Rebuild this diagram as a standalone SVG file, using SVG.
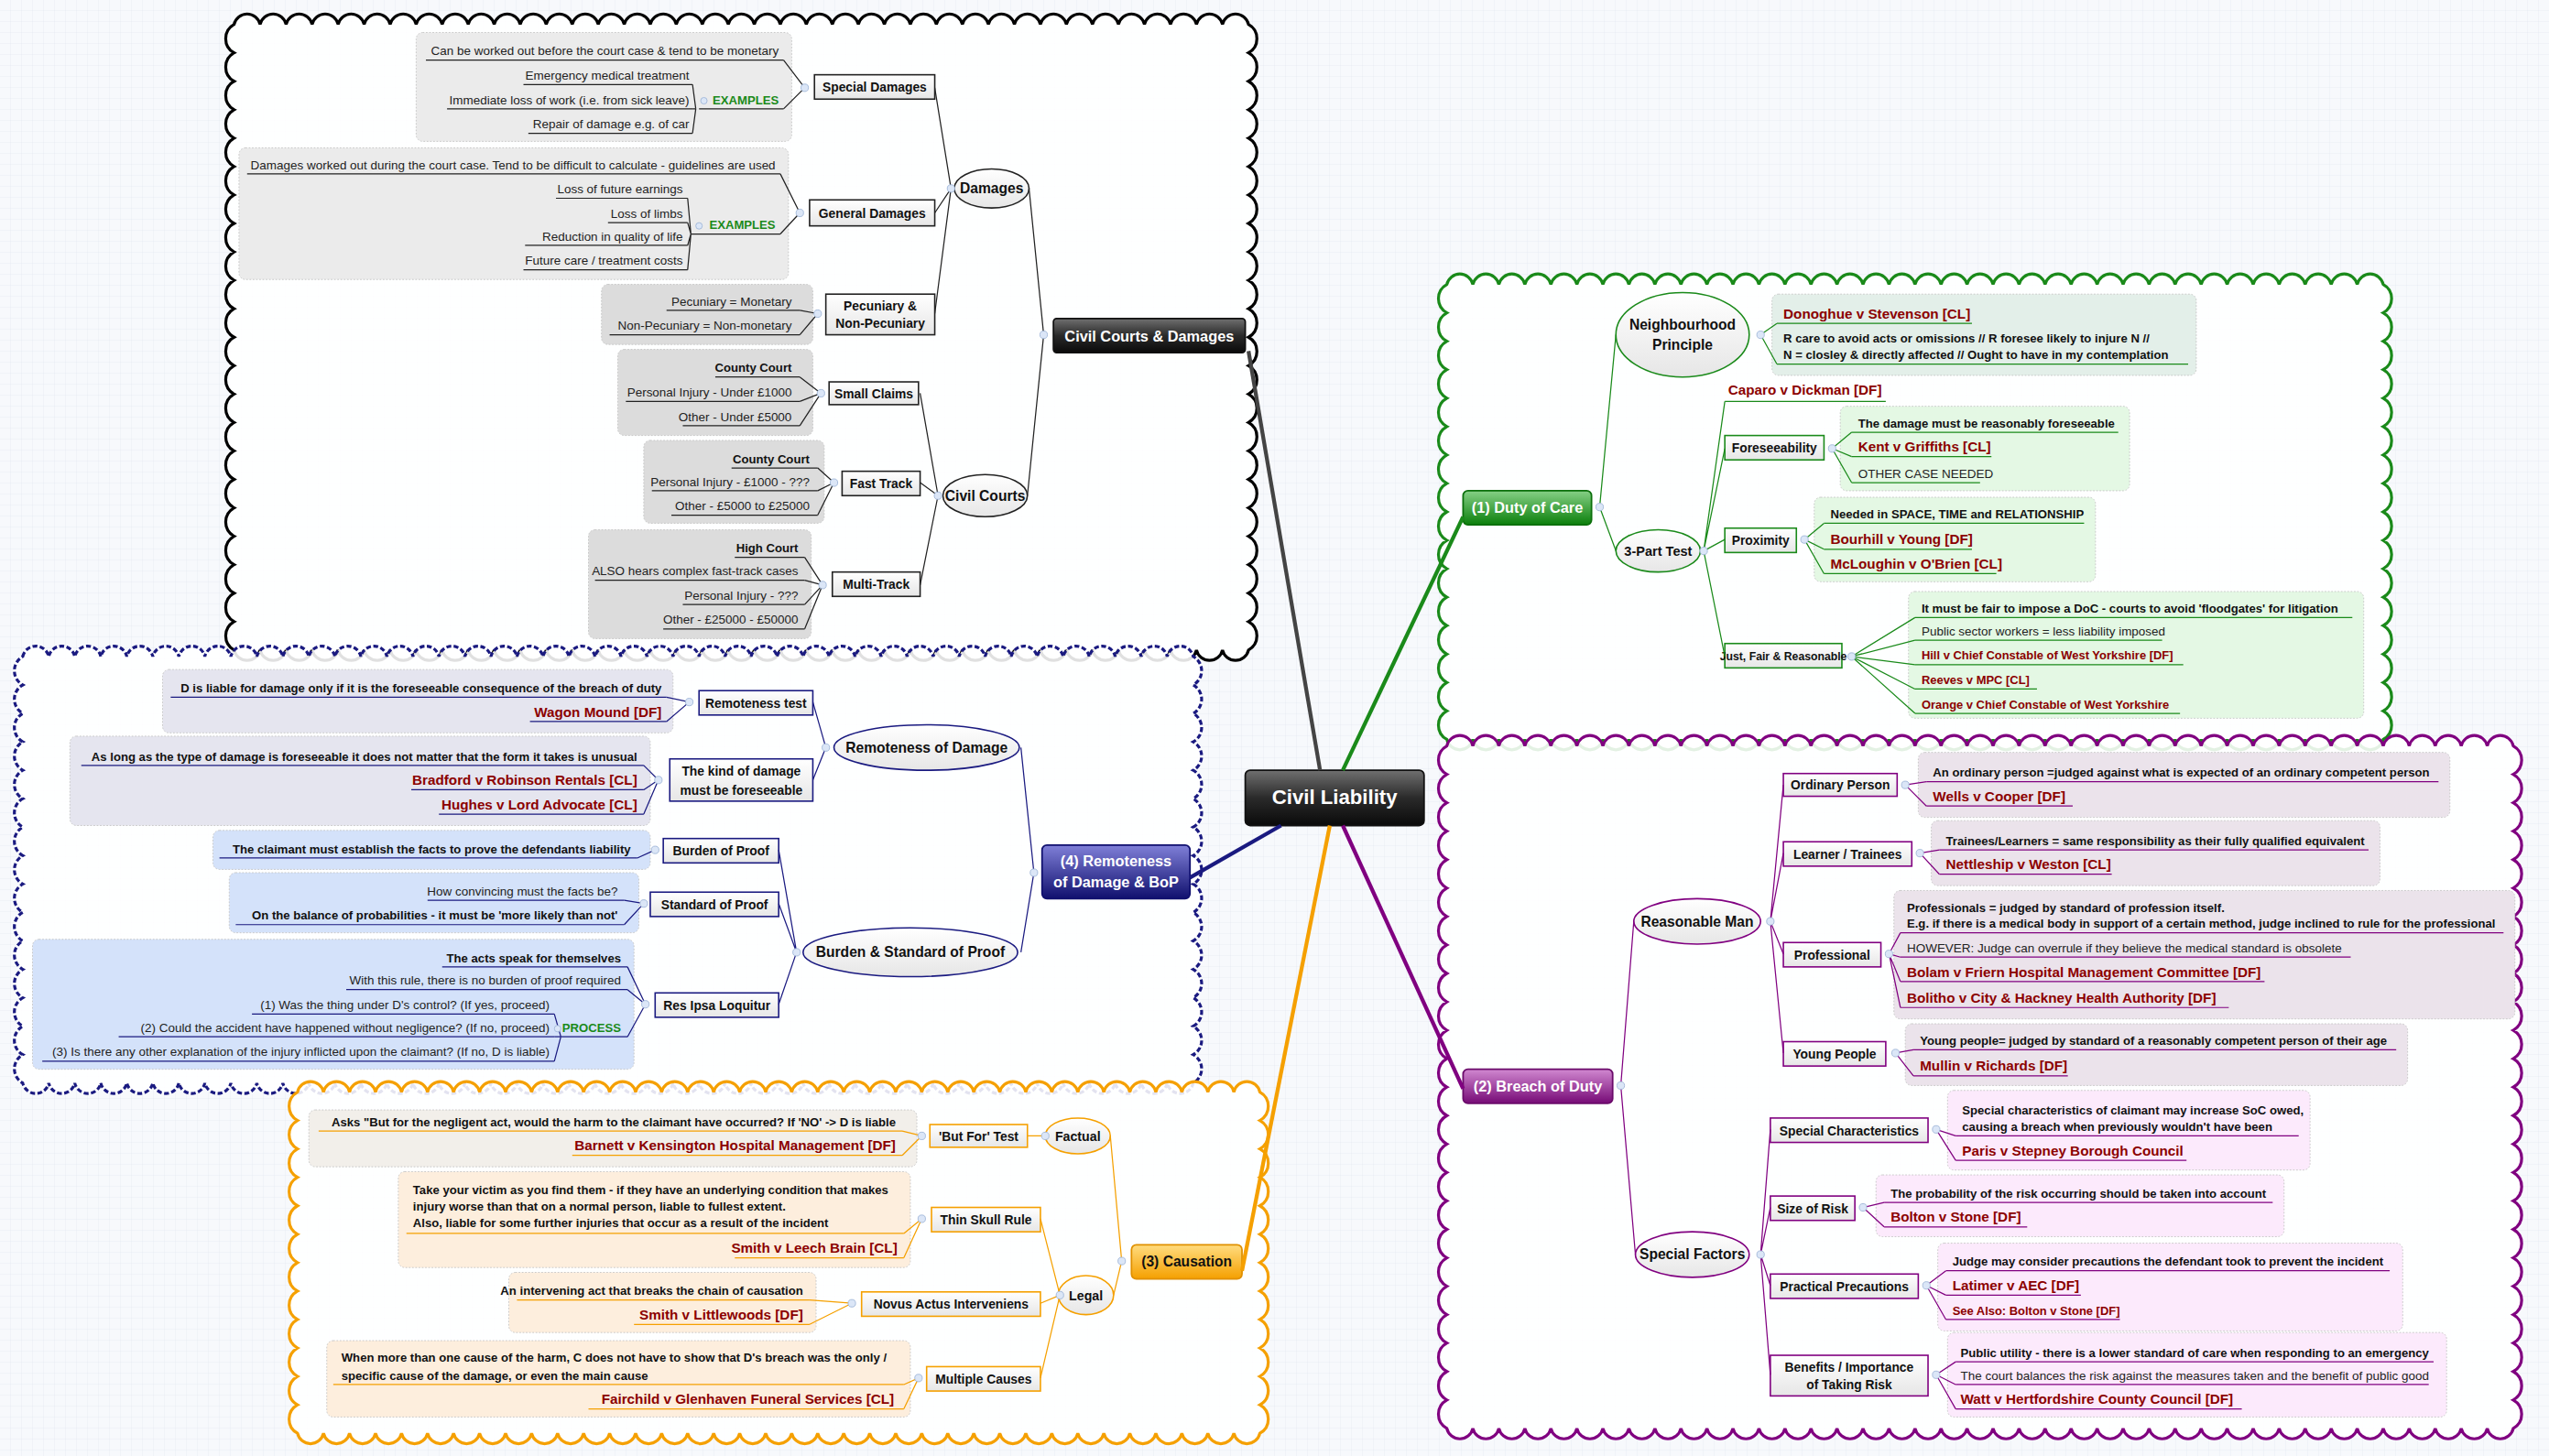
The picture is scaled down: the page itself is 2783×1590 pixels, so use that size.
<svg xmlns="http://www.w3.org/2000/svg" width="2783" height="1590" viewBox="0 0 2783 1590">
<style>
text{font-family:"Liberation Sans",Arial,sans-serif}
.n{font-size:7.6px;fill:#222}
.b{font-size:7.4px;font-weight:bold;fill:#111}
.r{font-size:8.6px;font-weight:bold;fill:#8b0000}
.rs{font-size:7.3px;font-weight:bold;fill:#8b0000}
.g{font-size:7.4px;font-weight:bold;fill:#1a8a1a}
.lb{font-size:7.8px;font-weight:bold;fill:#111;text-anchor:middle}
.el{font-size:8.8px;font-weight:bold;fill:#111;text-anchor:middle}
.tt{font-size:9.2px;font-weight:bold;fill:#fff;text-anchor:middle}
.e{text-anchor:end}
.cl{fill:#fff;fill-opacity:.88;stroke-width:1.8}
.note{stroke:#c4c4c4;stroke-width:.5;stroke-dasharray:1 1}
.box{fill:url(#gw);stroke-width:.9}
.ell{fill:url(#gw);stroke-width:.9}
.c{fill:none;stroke-width:.7}
.m{fill:#dbe6f7;stroke:#9fb6d8;stroke-width:.5}
.k{stroke:#222}.nv{stroke:#1a1a80}.o{stroke:#f5a000}.gr{stroke:#1a8a1a}.p{stroke:#800080}
</style>
<defs>
<pattern id="grid" width="12" height="12" patternUnits="userSpaceOnUse"><rect width="12" height="12" fill="#f7f9fc"/><path d="M12 0V12H0" fill="none" stroke="#e3eaf2" stroke-width=".7"/></pattern>
<linearGradient id="gw" x1="0" y1="0" x2="0" y2="1"><stop offset="0" stop-color="#fff"/><stop offset="1" stop-color="#e6e6e6"/></linearGradient>
<linearGradient id="gd" x1="0" y1="0" x2="0" y2="1"><stop offset="0" stop-color="#707070"/><stop offset=".5" stop-color="#2a2a2a"/><stop offset="1" stop-color="#0a0a0a"/></linearGradient>
<linearGradient id="gg" x1="0" y1="0" x2="0" y2="1"><stop offset="0" stop-color="#86d086"/><stop offset="1" stop-color="#0b7f0b"/></linearGradient>
<linearGradient id="gp" x1="0" y1="0" x2="0" y2="1"><stop offset="0" stop-color="#d088d0"/><stop offset="1" stop-color="#760a76"/></linearGradient>
<linearGradient id="gn" x1="0" y1="0" x2="0" y2="1"><stop offset="0" stop-color="#8080d8"/><stop offset="1" stop-color="#10106e"/></linearGradient>
<linearGradient id="go" x1="0" y1="0" x2="0" y2="1"><stop offset="0" stop-color="#ffdc80"/><stop offset="1" stop-color="#f5a000"/></linearGradient>
</defs>
<rect width="2783" height="1590" fill="url(#grid)"/>
<g transform="scale(1.7749 1.7746)">
<g id="clouds">
<path class="cl" stroke="#000" d="M144 15a8.2 8.2 0 0 1 16 0 8.2 8.2 0 0 1 16 0 8.2 8.2 0 0 1 16 0 8.2 8.2 0 0 1 16 0 8.2 8.2 0 0 1 16 0 8.2 8.2 0 0 1 16 0 8.2 8.2 0 0 1 16 0 8.2 8.2 0 0 1 16 0 8.2 8.2 0 0 1 16 0 8.2 8.2 0 0 1 16 0 8.2 8.2 0 0 1 16 0 8.2 8.2 0 0 1 16 0 8.2 8.2 0 0 1 16 0 8.2 8.2 0 0 1 16 0 8.2 8.2 0 0 1 16 0 8.2 8.2 0 0 1 16 0 8.2 8.2 0 0 1 16 0 8.2 8.2 0 0 1 16 0 8.2 8.2 0 0 1 16 0 8.2 8.2 0 0 1 16 0 8.2 8.2 0 0 1 16 0 8.2 8.2 0 0 1 16 0 8.2 8.2 0 0 1 16 0 8.2 8.2 0 0 1 16 0 8.2 8.2 0 0 1 16 0 8.2 8.2 0 0 1 16 0 8.2 8.2 0 0 1 16 0 8.2 8.2 0 0 1 16 0 8.2 8.2 0 0 1 16 0 8.2 8.2 0 0 1 16 0 8.2 8.2 0 0 1 16 0 8.2 8.2 0 0 1 16 0 8.2 8.2 0 0 1 16 0 8.2 8.2 0 0 1 16 0 8.2 8.2 0 0 1 16 0 8.2 8.2 0 0 1 16 0 8.2 8.2 0 0 1 16 0 8.2 8.2 0 0 1 16 0 8.2 8.2 0 0 1 16 0
a10 10 0 0 1 0 17.5 10 10 0 0 1 0 17.5 10 10 0 0 1 0 17.5 10 10 0 0 1 0 17.5 10 10 0 0 1 0 17.5 10 10 0 0 1 0 17.5 10 10 0 0 1 0 17.5 10 10 0 0 1 0 17.5 10 10 0 0 1 0 17.5 10 10 0 0 1 0 17.5 10 10 0 0 1 0 17.5 10 10 0 0 1 0 17.5 10 10 0 0 1 0 17.5 10 10 0 0 1 0 17.5 10 10 0 0 1 0 17.5 10 10 0 0 1 0 17.5 10 10 0 0 1 0 17.5 10 10 0 0 1 0 17.5 10 10 0 0 1 0 17.5 10 10 0 0 1 0 17.5 10 10 0 0 1 0 17.5 10 10 0 0 1 0 17.5
a8.2 8.2 0 0 1 -16 0 8.2 8.2 0 0 1 -16 0 8.2 8.2 0 0 1 -16 0 8.2 8.2 0 0 1 -16 0 8.2 8.2 0 0 1 -16 0 8.2 8.2 0 0 1 -16 0 8.2 8.2 0 0 1 -16 0 8.2 8.2 0 0 1 -16 0 8.2 8.2 0 0 1 -16 0 8.2 8.2 0 0 1 -16 0 8.2 8.2 0 0 1 -16 0 8.2 8.2 0 0 1 -16 0 8.2 8.2 0 0 1 -16 0 8.2 8.2 0 0 1 -16 0 8.2 8.2 0 0 1 -16 0 8.2 8.2 0 0 1 -16 0 8.2 8.2 0 0 1 -16 0 8.2 8.2 0 0 1 -16 0 8.2 8.2 0 0 1 -16 0 8.2 8.2 0 0 1 -16 0 8.2 8.2 0 0 1 -16 0 8.2 8.2 0 0 1 -16 0 8.2 8.2 0 0 1 -16 0 8.2 8.2 0 0 1 -16 0 8.2 8.2 0 0 1 -16 0 8.2 8.2 0 0 1 -16 0 8.2 8.2 0 0 1 -16 0 8.2 8.2 0 0 1 -16 0 8.2 8.2 0 0 1 -16 0 8.2 8.2 0 0 1 -16 0 8.2 8.2 0 0 1 -16 0 8.2 8.2 0 0 1 -16 0 8.2 8.2 0 0 1 -16 0 8.2 8.2 0 0 1 -16 0 8.2 8.2 0 0 1 -16 0 8.2 8.2 0 0 1 -16 0 8.2 8.2 0 0 1 -16 0 8.2 8.2 0 0 1 -16 0 8.2 8.2 0 0 1 -16 0
a10 10 0 0 1 0 -17.5 10 10 0 0 1 0 -17.5 10 10 0 0 1 0 -17.5 10 10 0 0 1 0 -17.5 10 10 0 0 1 0 -17.5 10 10 0 0 1 0 -17.5 10 10 0 0 1 0 -17.5 10 10 0 0 1 0 -17.5 10 10 0 0 1 0 -17.5 10 10 0 0 1 0 -17.5 10 10 0 0 1 0 -17.5 10 10 0 0 1 0 -17.5 10 10 0 0 1 0 -17.5 10 10 0 0 1 0 -17.5 10 10 0 0 1 0 -17.5 10 10 0 0 1 0 -17.5 10 10 0 0 1 0 -17.5 10 10 0 0 1 0 -17.5 10 10 0 0 1 0 -17.5 10 10 0 0 1 0 -17.5 10 10 0 0 1 0 -17.5 10 10 0 0 1 0 -17.5Z"/>
<path class="cl" stroke="#1a1a80" stroke-dasharray="3 1.5" d="M14 404a8.2 8.2 0 0 1 16 0 8.2 8.2 0 0 1 16 0 8.2 8.2 0 0 1 16 0 8.2 8.2 0 0 1 16 0 8.2 8.2 0 0 1 16 0 8.2 8.2 0 0 1 16 0 8.2 8.2 0 0 1 16 0 8.2 8.2 0 0 1 16 0 8.2 8.2 0 0 1 16 0 8.2 8.2 0 0 1 16 0 8.2 8.2 0 0 1 16 0 8.2 8.2 0 0 1 16 0 8.2 8.2 0 0 1 16 0 8.2 8.2 0 0 1 16 0 8.2 8.2 0 0 1 16 0 8.2 8.2 0 0 1 16 0 8.2 8.2 0 0 1 16 0 8.2 8.2 0 0 1 16 0 8.2 8.2 0 0 1 16 0 8.2 8.2 0 0 1 16 0 8.2 8.2 0 0 1 16 0 8.2 8.2 0 0 1 16 0 8.2 8.2 0 0 1 16 0 8.2 8.2 0 0 1 16 0 8.2 8.2 0 0 1 16 0 8.2 8.2 0 0 1 16 0 8.2 8.2 0 0 1 16 0 8.2 8.2 0 0 1 16 0 8.2 8.2 0 0 1 16 0 8.2 8.2 0 0 1 16 0 8.2 8.2 0 0 1 16 0 8.2 8.2 0 0 1 16 0 8.2 8.2 0 0 1 16 0 8.2 8.2 0 0 1 16 0 8.2 8.2 0 0 1 16 0 8.2 8.2 0 0 1 16 0 8.2 8.2 0 0 1 16 0 8.2 8.2 0 0 1 16 0 8.2 8.2 0 0 1 16 0 8.2 8.2 0 0 1 16 0 8.2 8.2 0 0 1 16 0 8.2 8.2 0 0 1 16 0 8.2 8.2 0 0 1 16 0 8.2 8.2 0 0 1 16 0 8.2 8.2 0 0 1 16 0
a10 10 0 0 1 0 17.5 10 10 0 0 1 0 17.5 10 10 0 0 1 0 17.5 10 10 0 0 1 0 17.5 10 10 0 0 1 0 17.5 10 10 0 0 1 0 17.5 10 10 0 0 1 0 17.5 10 10 0 0 1 0 17.5 10 10 0 0 1 0 17.5 10 10 0 0 1 0 17.5 10 10 0 0 1 0 17.5 10 10 0 0 1 0 17.5 10 10 0 0 1 0 17.5 10 10 0 0 1 0 17.5 10 10 0 0 1 0 17.5
a8.2 8.2 0 0 1 -16 0 8.2 8.2 0 0 1 -16 0 8.2 8.2 0 0 1 -16 0 8.2 8.2 0 0 1 -16 0 8.2 8.2 0 0 1 -16 0 8.2 8.2 0 0 1 -16 0 8.2 8.2 0 0 1 -16 0 8.2 8.2 0 0 1 -16 0 8.2 8.2 0 0 1 -16 0 8.2 8.2 0 0 1 -16 0 8.2 8.2 0 0 1 -16 0 8.2 8.2 0 0 1 -16 0 8.2 8.2 0 0 1 -16 0 8.2 8.2 0 0 1 -16 0 8.2 8.2 0 0 1 -16 0 8.2 8.2 0 0 1 -16 0 8.2 8.2 0 0 1 -16 0 8.2 8.2 0 0 1 -16 0 8.2 8.2 0 0 1 -16 0 8.2 8.2 0 0 1 -16 0 8.2 8.2 0 0 1 -16 0 8.2 8.2 0 0 1 -16 0 8.2 8.2 0 0 1 -16 0 8.2 8.2 0 0 1 -16 0 8.2 8.2 0 0 1 -16 0 8.2 8.2 0 0 1 -16 0 8.2 8.2 0 0 1 -16 0 8.2 8.2 0 0 1 -16 0 8.2 8.2 0 0 1 -16 0 8.2 8.2 0 0 1 -16 0 8.2 8.2 0 0 1 -16 0 8.2 8.2 0 0 1 -16 0 8.2 8.2 0 0 1 -16 0 8.2 8.2 0 0 1 -16 0 8.2 8.2 0 0 1 -16 0 8.2 8.2 0 0 1 -16 0 8.2 8.2 0 0 1 -16 0 8.2 8.2 0 0 1 -16 0 8.2 8.2 0 0 1 -16 0 8.2 8.2 0 0 1 -16 0 8.2 8.2 0 0 1 -16 0 8.2 8.2 0 0 1 -16 0 8.2 8.2 0 0 1 -16 0 8.2 8.2 0 0 1 -16 0 8.2 8.2 0 0 1 -16 0
a10 10 0 0 1 0 -17.5 10 10 0 0 1 0 -17.5 10 10 0 0 1 0 -17.5 10 10 0 0 1 0 -17.5 10 10 0 0 1 0 -17.5 10 10 0 0 1 0 -17.5 10 10 0 0 1 0 -17.5 10 10 0 0 1 0 -17.5 10 10 0 0 1 0 -17.5 10 10 0 0 1 0 -17.5 10 10 0 0 1 0 -17.5 10 10 0 0 1 0 -17.5 10 10 0 0 1 0 -17.5 10 10 0 0 1 0 -17.5 10 10 0 0 1 0 -17.5Z"/>
<path class="cl" stroke="#f5a000" d="M183 672a8.2 8.2 0 0 1 16 0 8.2 8.2 0 0 1 16 0 8.2 8.2 0 0 1 16 0 8.2 8.2 0 0 1 16 0 8.2 8.2 0 0 1 16 0 8.2 8.2 0 0 1 16 0 8.2 8.2 0 0 1 16 0 8.2 8.2 0 0 1 16 0 8.2 8.2 0 0 1 16 0 8.2 8.2 0 0 1 16 0 8.2 8.2 0 0 1 16 0 8.2 8.2 0 0 1 16 0 8.2 8.2 0 0 1 16 0 8.2 8.2 0 0 1 16 0 8.2 8.2 0 0 1 16 0 8.2 8.2 0 0 1 16 0 8.2 8.2 0 0 1 16 0 8.2 8.2 0 0 1 16 0 8.2 8.2 0 0 1 16 0 8.2 8.2 0 0 1 16 0 8.2 8.2 0 0 1 16 0 8.2 8.2 0 0 1 16 0 8.2 8.2 0 0 1 16 0 8.2 8.2 0 0 1 16 0 8.2 8.2 0 0 1 16 0 8.2 8.2 0 0 1 16 0 8.2 8.2 0 0 1 16 0 8.2 8.2 0 0 1 16 0 8.2 8.2 0 0 1 16 0 8.2 8.2 0 0 1 16 0 8.2 8.2 0 0 1 16 0 8.2 8.2 0 0 1 16 0 8.2 8.2 0 0 1 16 0 8.2 8.2 0 0 1 16 0 8.2 8.2 0 0 1 16 0 8.2 8.2 0 0 1 16 0 8.2 8.2 0 0 1 16 0
a10 10 0 0 1 0 17.5 10 10 0 0 1 0 17.5 10 10 0 0 1 0 17.5 10 10 0 0 1 0 17.5 10 10 0 0 1 0 17.5 10 10 0 0 1 0 17.5 10 10 0 0 1 0 17.5 10 10 0 0 1 0 17.5 10 10 0 0 1 0 17.5 10 10 0 0 1 0 17.5 10 10 0 0 1 0 17.5 10 10 0 0 1 0 17.5
a8.2 8.2 0 0 1 -16 0 8.2 8.2 0 0 1 -16 0 8.2 8.2 0 0 1 -16 0 8.2 8.2 0 0 1 -16 0 8.2 8.2 0 0 1 -16 0 8.2 8.2 0 0 1 -16 0 8.2 8.2 0 0 1 -16 0 8.2 8.2 0 0 1 -16 0 8.2 8.2 0 0 1 -16 0 8.2 8.2 0 0 1 -16 0 8.2 8.2 0 0 1 -16 0 8.2 8.2 0 0 1 -16 0 8.2 8.2 0 0 1 -16 0 8.2 8.2 0 0 1 -16 0 8.2 8.2 0 0 1 -16 0 8.2 8.2 0 0 1 -16 0 8.2 8.2 0 0 1 -16 0 8.2 8.2 0 0 1 -16 0 8.2 8.2 0 0 1 -16 0 8.2 8.2 0 0 1 -16 0 8.2 8.2 0 0 1 -16 0 8.2 8.2 0 0 1 -16 0 8.2 8.2 0 0 1 -16 0 8.2 8.2 0 0 1 -16 0 8.2 8.2 0 0 1 -16 0 8.2 8.2 0 0 1 -16 0 8.2 8.2 0 0 1 -16 0 8.2 8.2 0 0 1 -16 0 8.2 8.2 0 0 1 -16 0 8.2 8.2 0 0 1 -16 0 8.2 8.2 0 0 1 -16 0 8.2 8.2 0 0 1 -16 0 8.2 8.2 0 0 1 -16 0 8.2 8.2 0 0 1 -16 0 8.2 8.2 0 0 1 -16 0 8.2 8.2 0 0 1 -16 0 8.2 8.2 0 0 1 -16 0
a10 10 0 0 1 0 -17.5 10 10 0 0 1 0 -17.5 10 10 0 0 1 0 -17.5 10 10 0 0 1 0 -17.5 10 10 0 0 1 0 -17.5 10 10 0 0 1 0 -17.5 10 10 0 0 1 0 -17.5 10 10 0 0 1 0 -17.5 10 10 0 0 1 0 -17.5 10 10 0 0 1 0 -17.5 10 10 0 0 1 0 -17.5 10 10 0 0 1 0 -17.5Z"/>
<path class="cl" stroke="#1a8a1a" d="M890 175a8.2 8.2 0 0 1 16 0 8.2 8.2 0 0 1 16 0 8.2 8.2 0 0 1 16 0 8.2 8.2 0 0 1 16 0 8.2 8.2 0 0 1 16 0 8.2 8.2 0 0 1 16 0 8.2 8.2 0 0 1 16 0 8.2 8.2 0 0 1 16 0 8.2 8.2 0 0 1 16 0 8.2 8.2 0 0 1 16 0 8.2 8.2 0 0 1 16 0 8.2 8.2 0 0 1 16 0 8.2 8.2 0 0 1 16 0 8.2 8.2 0 0 1 16 0 8.2 8.2 0 0 1 16 0 8.2 8.2 0 0 1 16 0 8.2 8.2 0 0 1 16 0 8.2 8.2 0 0 1 16 0 8.2 8.2 0 0 1 16 0 8.2 8.2 0 0 1 16 0 8.2 8.2 0 0 1 16 0 8.2 8.2 0 0 1 16 0 8.2 8.2 0 0 1 16 0 8.2 8.2 0 0 1 16 0 8.2 8.2 0 0 1 16 0 8.2 8.2 0 0 1 16 0 8.2 8.2 0 0 1 16 0 8.2 8.2 0 0 1 16 0 8.2 8.2 0 0 1 16 0 8.2 8.2 0 0 1 16 0 8.2 8.2 0 0 1 16 0 8.2 8.2 0 0 1 16 0 8.2 8.2 0 0 1 16 0 8.2 8.2 0 0 1 16 0 8.2 8.2 0 0 1 16 0 8.2 8.2 0 0 1 16 0
a10 10 0 0 1 0 17.5 10 10 0 0 1 0 17.5 10 10 0 0 1 0 17.5 10 10 0 0 1 0 17.5 10 10 0 0 1 0 17.5 10 10 0 0 1 0 17.5 10 10 0 0 1 0 17.5 10 10 0 0 1 0 17.5 10 10 0 0 1 0 17.5 10 10 0 0 1 0 17.5 10 10 0 0 1 0 17.5 10 10 0 0 1 0 17.5 10 10 0 0 1 0 17.5 10 10 0 0 1 0 17.5 10 10 0 0 1 0 17.5 10 10 0 0 1 0 17.5
a8.2 8.2 0 0 1 -16 0 8.2 8.2 0 0 1 -16 0 8.2 8.2 0 0 1 -16 0 8.2 8.2 0 0 1 -16 0 8.2 8.2 0 0 1 -16 0 8.2 8.2 0 0 1 -16 0 8.2 8.2 0 0 1 -16 0 8.2 8.2 0 0 1 -16 0 8.2 8.2 0 0 1 -16 0 8.2 8.2 0 0 1 -16 0 8.2 8.2 0 0 1 -16 0 8.2 8.2 0 0 1 -16 0 8.2 8.2 0 0 1 -16 0 8.2 8.2 0 0 1 -16 0 8.2 8.2 0 0 1 -16 0 8.2 8.2 0 0 1 -16 0 8.2 8.2 0 0 1 -16 0 8.2 8.2 0 0 1 -16 0 8.2 8.2 0 0 1 -16 0 8.2 8.2 0 0 1 -16 0 8.2 8.2 0 0 1 -16 0 8.2 8.2 0 0 1 -16 0 8.2 8.2 0 0 1 -16 0 8.2 8.2 0 0 1 -16 0 8.2 8.2 0 0 1 -16 0 8.2 8.2 0 0 1 -16 0 8.2 8.2 0 0 1 -16 0 8.2 8.2 0 0 1 -16 0 8.2 8.2 0 0 1 -16 0 8.2 8.2 0 0 1 -16 0 8.2 8.2 0 0 1 -16 0 8.2 8.2 0 0 1 -16 0 8.2 8.2 0 0 1 -16 0 8.2 8.2 0 0 1 -16 0 8.2 8.2 0 0 1 -16 0 8.2 8.2 0 0 1 -16 0
a10 10 0 0 1 0 -17.5 10 10 0 0 1 0 -17.5 10 10 0 0 1 0 -17.5 10 10 0 0 1 0 -17.5 10 10 0 0 1 0 -17.5 10 10 0 0 1 0 -17.5 10 10 0 0 1 0 -17.5 10 10 0 0 1 0 -17.5 10 10 0 0 1 0 -17.5 10 10 0 0 1 0 -17.5 10 10 0 0 1 0 -17.5 10 10 0 0 1 0 -17.5 10 10 0 0 1 0 -17.5 10 10 0 0 1 0 -17.5 10 10 0 0 1 0 -17.5 10 10 0 0 1 0 -17.5Z"/>
<path class="cl" stroke="#800080" d="M890 459a8.2 8.2 0 0 1 16 0 8.2 8.2 0 0 1 16 0 8.2 8.2 0 0 1 16 0 8.2 8.2 0 0 1 16 0 8.2 8.2 0 0 1 16 0 8.2 8.2 0 0 1 16 0 8.2 8.2 0 0 1 16 0 8.2 8.2 0 0 1 16 0 8.2 8.2 0 0 1 16 0 8.2 8.2 0 0 1 16 0 8.2 8.2 0 0 1 16 0 8.2 8.2 0 0 1 16 0 8.2 8.2 0 0 1 16 0 8.2 8.2 0 0 1 16 0 8.2 8.2 0 0 1 16 0 8.2 8.2 0 0 1 16 0 8.2 8.2 0 0 1 16 0 8.2 8.2 0 0 1 16 0 8.2 8.2 0 0 1 16 0 8.2 8.2 0 0 1 16 0 8.2 8.2 0 0 1 16 0 8.2 8.2 0 0 1 16 0 8.2 8.2 0 0 1 16 0 8.2 8.2 0 0 1 16 0 8.2 8.2 0 0 1 16 0 8.2 8.2 0 0 1 16 0 8.2 8.2 0 0 1 16 0 8.2 8.2 0 0 1 16 0 8.2 8.2 0 0 1 16 0 8.2 8.2 0 0 1 16 0 8.2 8.2 0 0 1 16 0 8.2 8.2 0 0 1 16 0 8.2 8.2 0 0 1 16 0 8.2 8.2 0 0 1 16 0 8.2 8.2 0 0 1 16 0 8.2 8.2 0 0 1 16 0 8.2 8.2 0 0 1 16 0 8.2 8.2 0 0 1 16 0 8.2 8.2 0 0 1 16 0 8.2 8.2 0 0 1 16 0 8.2 8.2 0 0 1 16 0
a10 10 0 0 1 0 17.5 10 10 0 0 1 0 17.5 10 10 0 0 1 0 17.5 10 10 0 0 1 0 17.5 10 10 0 0 1 0 17.5 10 10 0 0 1 0 17.5 10 10 0 0 1 0 17.5 10 10 0 0 1 0 17.5 10 10 0 0 1 0 17.5 10 10 0 0 1 0 17.5 10 10 0 0 1 0 17.5 10 10 0 0 1 0 17.5 10 10 0 0 1 0 17.5 10 10 0 0 1 0 17.5 10 10 0 0 1 0 17.5 10 10 0 0 1 0 17.5 10 10 0 0 1 0 17.5 10 10 0 0 1 0 17.5 10 10 0 0 1 0 17.5 10 10 0 0 1 0 17.5 10 10 0 0 1 0 17.5 10 10 0 0 1 0 17.5 10 10 0 0 1 0 17.5 10 10 0 0 1 0 17.5
a8.2 8.2 0 0 1 -16 0 8.2 8.2 0 0 1 -16 0 8.2 8.2 0 0 1 -16 0 8.2 8.2 0 0 1 -16 0 8.2 8.2 0 0 1 -16 0 8.2 8.2 0 0 1 -16 0 8.2 8.2 0 0 1 -16 0 8.2 8.2 0 0 1 -16 0 8.2 8.2 0 0 1 -16 0 8.2 8.2 0 0 1 -16 0 8.2 8.2 0 0 1 -16 0 8.2 8.2 0 0 1 -16 0 8.2 8.2 0 0 1 -16 0 8.2 8.2 0 0 1 -16 0 8.2 8.2 0 0 1 -16 0 8.2 8.2 0 0 1 -16 0 8.2 8.2 0 0 1 -16 0 8.2 8.2 0 0 1 -16 0 8.2 8.2 0 0 1 -16 0 8.2 8.2 0 0 1 -16 0 8.2 8.2 0 0 1 -16 0 8.2 8.2 0 0 1 -16 0 8.2 8.2 0 0 1 -16 0 8.2 8.2 0 0 1 -16 0 8.2 8.2 0 0 1 -16 0 8.2 8.2 0 0 1 -16 0 8.2 8.2 0 0 1 -16 0 8.2 8.2 0 0 1 -16 0 8.2 8.2 0 0 1 -16 0 8.2 8.2 0 0 1 -16 0 8.2 8.2 0 0 1 -16 0 8.2 8.2 0 0 1 -16 0 8.2 8.2 0 0 1 -16 0 8.2 8.2 0 0 1 -16 0 8.2 8.2 0 0 1 -16 0 8.2 8.2 0 0 1 -16 0 8.2 8.2 0 0 1 -16 0 8.2 8.2 0 0 1 -16 0 8.2 8.2 0 0 1 -16 0 8.2 8.2 0 0 1 -16 0 8.2 8.2 0 0 1 -16 0
a10 10 0 0 1 0 -17.5 10 10 0 0 1 0 -17.5 10 10 0 0 1 0 -17.5 10 10 0 0 1 0 -17.5 10 10 0 0 1 0 -17.5 10 10 0 0 1 0 -17.5 10 10 0 0 1 0 -17.5 10 10 0 0 1 0 -17.5 10 10 0 0 1 0 -17.5 10 10 0 0 1 0 -17.5 10 10 0 0 1 0 -17.5 10 10 0 0 1 0 -17.5 10 10 0 0 1 0 -17.5 10 10 0 0 1 0 -17.5 10 10 0 0 1 0 -17.5 10 10 0 0 1 0 -17.5 10 10 0 0 1 0 -17.5 10 10 0 0 1 0 -17.5 10 10 0 0 1 0 -17.5 10 10 0 0 1 0 -17.5 10 10 0 0 1 0 -17.5 10 10 0 0 1 0 -17.5 10 10 0 0 1 0 -17.5 10 10 0 0 1 0 -17.5Z"/>
</g>

<g id="central"><rect x="766" y="474" width="110" height="34" rx="3" fill="url(#gd)" stroke="#111"/><text x="821" y="495" class="tt" style="font-size:12.5px">Civil Liability</text></g>

<!-- Civil Courts & Damages -->
<g id="ccd"><rect x="648" y="196" width="118" height="21" rx="2" fill="url(#gd)" stroke="#111"/><text x="707" y="210" class="tt">Civil Courts &amp; Damages</text></g>
<g id="damages"><ellipse cx="610" cy="116" rx="23" ry="12" class="ell k"/><text x="610" y="119" class="el">Damages</text></g>
<g id="civilcourts"><ellipse cx="606" cy="305" rx="26" ry="13" class="ell k"/><text x="606" y="308" class="el">Civil Courts</text></g>
<g id="special"><rect x="501" y="46" width="74" height="15" class="box k"/><text x="538" y="56.5" class="lb">Special Damages</text></g>
<g id="general"><rect x="498" y="123" width="77" height="16" class="box k"/><text x="536.5" y="134" class="lb">General Damages</text></g>
<g id="pecuniary"><rect x="508" y="181" width="67" height="25" class="box k"/><text x="541.5" y="191" class="lb">Pecuniary &amp;</text><text x="541.5" y="202" class="lb">Non-Pecuniary</text></g>
<g id="small"><rect x="510" y="235" width="55" height="14" class="box k"/><text x="537.5" y="245" class="lb">Small Claims</text></g>
<g id="fast"><rect x="518" y="290" width="48" height="15" class="box k"/><text x="542" y="300.5" class="lb">Fast Track</text></g>
<g id="multi"><rect x="512" y="352" width="54" height="15" class="box k"/><text x="539" y="362.5" class="lb">Multi-Track</text></g>
<g id="n-special"><rect x="256" y="20" width="231" height="67" rx="4" class="note" fill="#ebebeb"/>
<text x="479" y="34" class="n e">Can be worked out before the court case &amp; tend to be monetary</text>
<text x="424" y="49" class="n e">Emergency medical treatment</text><text x="424" y="64" class="n e">Immediate loss of work (i.e. from sick leave)</text><text x="424" y="79" class="n e">Repair of damage e.g. of car</text>
<text x="479" y="64" class="g e">EXAMPLES</text></g>
<g id="n-general"><rect x="147" y="91" width="338" height="81" rx="4" class="note" fill="#ebebeb"/>
<text x="477" y="104" class="n e">Damages worked out during the court case. Tend to be difficult to calculate - guidelines are used</text>
<text x="420" y="119" class="n e">Loss of future earnings</text><text x="420" y="134" class="n e">Loss of limbs</text><text x="420" y="148" class="n e">Reduction in quality of life</text><text x="420" y="163" class="n e">Future care / treatment costs</text>
<text x="477" y="141" class="g e">EXAMPLES</text></g>
<g id="n-pecuniary"><rect x="370" y="175" width="130" height="37" rx="4" class="note" fill="#dcdcdc"/>
<text x="487" y="188" class="n e">Pecuniary = Monetary</text><text x="487" y="203" class="n e">Non-Pecuniary = Non-monetary</text></g>
<g id="n-small"><rect x="380" y="215" width="120" height="53" rx="4" class="note" fill="#dcdcdc"/>
<text x="487" y="229" class="b e">County Court</text><text x="487" y="244" class="n e">Personal Injury - Under £1000</text><text x="487" y="259" class="n e">Other - Under £5000</text></g>
<g id="n-fast"><rect x="396" y="271" width="111" height="51" rx="4" class="note" fill="#dcdcdc"/>
<text x="498" y="285" class="b e">County Court</text><text x="498" y="299" class="n e">Personal Injury - £1000 - ???</text><text x="498" y="314" class="n e">Other - £5000 to £25000</text></g>
<g id="n-multi"><rect x="362" y="326" width="137" height="67" rx="4" class="note" fill="#dcdcdc"/>
<text x="491" y="340" class="b e">High Court</text><text x="491" y="354" class="n e">ALSO hears complex fast-track cases</text><text x="491" y="369" class="n e">Personal Injury - ???</text><text x="491" y="384" class="n e">Other - £25000 - £50000</text></g>

<!-- (4) Remoteness -->
<g id="remoteness"><rect x="641" y="520" width="91" height="33" rx="3" fill="url(#gn)" stroke="#10106e"/><text x="686.5" y="533" class="tt">(4) Remoteness</text><text x="686.5" y="546" class="tt">of Damage &amp; BoP</text></g>
<g id="rod"><ellipse cx="570" cy="460" rx="57" ry="14" class="ell nv"/><text x="570" y="463" class="el">Remoteness of Damage</text></g>
<g id="bsp"><ellipse cx="560" cy="586" rx="66" ry="15" class="ell nv"/><text x="560" y="589" class="el">Burden &amp; Standard of Proof</text></g>
<g id="rtest"><rect x="430" y="425" width="70" height="15" class="box nv"/><text x="465" y="435.5" class="lb">Remoteness test</text></g>
<g id="kind"><rect x="412" y="467" width="88" height="26" class="box nv"/><text x="456" y="477.5" class="lb">The kind of damage</text><text x="456" y="489" class="lb">must be foreseeable</text></g>
<g id="burden"><rect x="408" y="516" width="71" height="15" class="box nv"/><text x="443.5" y="526.5" class="lb">Burden of Proof</text></g>
<g id="standard"><rect x="400" y="549" width="79" height="15" class="box nv"/><text x="439.5" y="559.5" class="lb">Standard of Proof</text></g>
<g id="resipsa"><rect x="403" y="611" width="76" height="15" class="box nv"/><text x="441" y="621.5" class="lb">Res Ipsa Loquitur</text></g>
<g id="n-rtest"><rect x="100" y="412" width="314" height="39" rx="4" class="note" fill="#e5e5ef"/>
<text x="407" y="426" class="b e">D is liable for damage only if it is the foreseeable consequence of the breach of duty</text><text x="407" y="441" class="r e">Wagon Mound [DF]</text></g>
<g id="n-kind"><rect x="43" y="453" width="357" height="55" rx="4" class="note" fill="#e5e5ef"/>
<text x="392" y="468" class="b e">As long as the type of damage is foreseeable it does not matter that the form it takes is unusual</text>
<text x="392" y="483" class="r e">Bradford v Robinson Rentals [CL]</text><text x="392" y="498" class="r e">Hughes v Lord Advocate [CL]</text></g>
<g id="n-burden"><rect x="131" y="511" width="269" height="24" rx="4" class="note" fill="#d4e2fa"/>
<text x="388" y="525" class="b e">The claimant must establish the facts to prove the defendants liability</text></g>
<g id="n-standard"><rect x="141" y="537" width="252" height="37" rx="4" class="note" fill="#d4e2fa"/>
<text x="380" y="551" class="n e">How convincing must the facts be?</text><text x="380" y="566" class="b e">On the balance of probabilities - it must be 'more likely than not'</text></g>
<g id="n-resipsa"><rect x="20" y="578" width="370" height="80" rx="4" class="note" fill="#d4e2fa"/>
<text x="382" y="592" class="b e">The acts speak for themselves</text><text x="382" y="606" class="n e">With this rule, there is no burden of proof required</text>
<text x="382" y="635" class="g e">PROCESS</text>
<text x="338" y="621" class="n e">(1) Was the thing under D's control? (If yes, proceed)</text>
<text x="338" y="635" class="n e">(2) Could the accident have happened without negligence? (If no, proceed)</text>
<text x="338" y="650" class="n e">(3) Is there any other explanation of the injury inflicted upon the claimant? (If no, D is liable)</text></g>

<!-- (3) Causation -->
<g id="causation"><rect x="696" y="766" width="68" height="21" rx="3" fill="url(#go)" stroke="#e09000"/><text x="730" y="779.5" class="el">(3) Causation</text></g>
<g id="factual"><ellipse cx="663" cy="699" rx="20" ry="11" class="ell o"/><text x="663" y="702" class="el" style="font-size:8px">Factual</text></g>
<g id="legal"><ellipse cx="668" cy="797" rx="17" ry="12" class="ell o"/><text x="668" y="800" class="el" style="font-size:8px">Legal</text></g>
<g id="butfor"><rect x="572" y="692" width="60" height="14" class="box o"/><text x="602" y="702" class="lb">'But For' Test</text></g>
<g id="thinskull"><rect x="573" y="743" width="67" height="15" class="box o"/><text x="606.5" y="753.5" class="lb">Thin Skull Rule</text></g>
<g id="novus"><rect x="530" y="795" width="110" height="15" class="box o"/><text x="585" y="805.5" class="lb">Novus Actus Interveniens</text></g>
<g id="multiple"><rect x="570" y="841" width="70" height="15" class="box o"/><text x="605" y="851.5" class="lb">Multiple Causes</text></g>
<g id="n-butfor"><rect x="190" y="683" width="374" height="35" rx="4" class="note" fill="#f2efea"/>
<text x="551" y="693" class="b e">Asks "But for the negligent act, would the harm to the claimant have occurred? If 'NO' -&gt; D is liable</text>
<text x="551" y="708" class="r e">Barnett v Kensington Hospital Management [DF]</text></g>
<g id="n-thinskull"><rect x="245" y="721" width="315" height="59" rx="4" class="note" fill="#fdeedd"/>
<text x="254" y="735" class="b">Take your victim as you find them - if they have an underlying condition that makes</text>
<text x="254" y="745" class="b">injury worse than that on a normal person, liable to fullest extent.</text>
<text x="254" y="755" class="b">Also, liable for some further injuries that occur as a result of the incident</text>
<text x="552" y="771" class="r e">Smith v Leech Brain [CL]</text></g>
<g id="n-novus"><rect x="313" y="783" width="189" height="37" rx="4" class="note" fill="#fdeedd"/>
<text x="494" y="797" class="b e">An intervening act that breaks the chain of causation</text><text x="494" y="812" class="r e">Smith v Littlewoods [DF]</text></g>
<g id="n-multiple"><rect x="201" y="825" width="359" height="47" rx="4" class="note" fill="#fdeedd"/>
<text x="210" y="838" class="b">When more than one cause of the harm, C does not have to show that D's breach was the only /</text>
<text x="210" y="849" class="b">specific cause of the damage, or even the main cause</text>
<text x="550" y="864" class="r e">Fairchild v Glenhaven Funeral Services [CL]</text></g>

<!-- (1) Duty of Care -->
<g id="duty"><rect x="900" y="302" width="79" height="21" rx="3" fill="url(#gg)" stroke="#0b6f0b"/><text x="939.5" y="315.5" class="tt">(1) Duty of Care</text></g>
<g id="neighbour"><ellipse cx="1035" cy="206" rx="41" ry="26" class="ell gr"/><text x="1035" y="203" class="el">Neighbourhood</text><text x="1035" y="215" class="el">Principle</text></g>
<g id="threepart"><ellipse cx="1020" cy="339" rx="26" ry="13" class="ell gr"/><text x="1020" y="342" class="el" style="font-size:8.2px">3-Part Test</text></g>
<g id="caparo"><text x="1063" y="243" class="r">Caparo v Dickman [DF]</text></g>
<g id="fore"><rect x="1061" y="268" width="61" height="15" class="box gr"/><text x="1091.5" y="278.5" class="lb">Foreseeability</text></g>
<g id="prox"><rect x="1061" y="325" width="44" height="15" class="box gr"/><text x="1083" y="335.5" class="lb">Proximity</text></g>
<g id="jfr"><rect x="1061" y="396" width="72" height="15" class="box gr"/><text x="1097" y="406.3" class="lb" style="font-size:6.9px">Just, Fair &amp; Reasonable</text></g>
<g id="n-neighbour"><rect x="1090" y="181" width="261" height="50" rx="4" class="note" fill="#e3efe9"/>
<text x="1097" y="196" class="r">Donoghue v Stevenson [CL]</text>
<text x="1097" y="211" class="b">R care to avoid acts or omissions // R foresee likely to injure N //</text>
<text x="1097" y="221" class="b">N = closley &amp; directly affected // Ought to have in my contemplation</text></g>
<g id="n-fore"><rect x="1132" y="250" width="178" height="52" rx="4" class="note" fill="#e4f8e4"/>
<text x="1143" y="263" class="b">The damage must be reasonably foreseeable</text><text x="1143" y="278" class="r">Kent v Griffiths [CL]</text><text x="1143" y="294" class="n">OTHER CASE NEEDED</text></g>
<g id="n-prox"><rect x="1116" y="306" width="173" height="52" rx="4" class="note" fill="#e4f8e4"/>
<text x="1126" y="319" class="b">Needed in SPACE, TIME and RELATIONSHIP</text><text x="1126" y="335" class="r">Bourhill v Young [DF]</text><text x="1126" y="350" class="r">McLoughin v O'Brien [CL]</text></g>
<g id="n-jfr"><rect x="1174" y="364" width="280" height="78" rx="4" class="note" fill="#e4f8e4"/>
<text x="1182" y="377" class="b">It must be fair to impose a DoC - courts to avoid 'floodgates' for litigation</text>
<text x="1182" y="391" class="n">Public sector workers = less liability imposed</text>
<text x="1182" y="406" class="rs">Hill v Chief Constable of West Yorkshire [DF]</text>
<text x="1182" y="421" class="rs">Reeves v MPC [CL]</text>
<text x="1182" y="436" class="rs">Orange v Chief Constable of West Yorkshire</text></g>

<!-- (2) Breach of Duty -->
<g id="breach"><rect x="900" y="658" width="92" height="21" rx="3" fill="url(#gp)" stroke="#6a0a6a"/><text x="946" y="671.5" class="tt">(2) Breach of Duty</text></g>
<g id="reasonable"><ellipse cx="1044" cy="567" rx="39" ry="14" class="ell p"/><text x="1044" y="570" class="el">Reasonable Man</text></g>
<g id="specialf"><ellipse cx="1041" cy="772" rx="35" ry="14" class="ell p"/><text x="1041" y="775" class="el">Special Factors</text></g>
<g id="ordinary"><rect x="1097" y="476" width="70" height="14" class="box p"/><text x="1132" y="486" class="lb">Ordinary Person</text></g>
<g id="learner"><rect x="1097" y="518" width="79" height="15" class="box p"/><text x="1136.5" y="528.5" class="lb">Learner / Trainees</text></g>
<g id="professional"><rect x="1097" y="580" width="60" height="15" class="box p"/><text x="1127" y="590.5" class="lb">Professional</text></g>
<g id="young"><rect x="1097" y="641" width="63" height="15" class="box p"/><text x="1128.5" y="651.5" class="lb">Young People</text></g>
<g id="specialc"><rect x="1089" y="688" width="97" height="15" class="box p"/><text x="1137.5" y="698.5" class="lb">Special Characteristics</text></g>
<g id="sizerisk"><rect x="1089" y="736" width="52" height="15" class="box p"/><text x="1115" y="746.5" class="lb">Size of Risk</text></g>
<g id="practical"><rect x="1089" y="784" width="91" height="15" class="box p"/><text x="1134.5" y="794.5" class="lb">Practical Precautions</text></g>
<g id="benefits"><rect x="1089" y="834" width="97" height="25" class="box p"/><text x="1137.5" y="844" class="lb">Benefits / Importance</text><text x="1137.5" y="855" class="lb">of Taking Risk</text></g>
<g id="n-ordinary"><rect x="1180" y="463" width="327" height="40" rx="4" class="note" fill="#ebe3eb"/>
<text x="1189" y="478" class="b">An ordinary person =judged against what is expected of an ordinary competent person</text><text x="1189" y="493" class="r">Wells v Cooper [DF]</text></g>
<g id="n-learner"><rect x="1188" y="505" width="276" height="40" rx="4" class="note" fill="#ebe3eb"/>
<text x="1197" y="520" class="b">Trainees/Learners = same responsibility as their fully qualified equivalent</text><text x="1197" y="535" class="r">Nettleship v Weston [CL]</text></g>
<g id="n-professional"><rect x="1165" y="548" width="382" height="79" rx="4" class="note" fill="#ebe3eb"/>
<text x="1173" y="561" class="b">Professionals = judged by standard of profession itself.</text>
<text x="1173" y="571" class="b">E.g. if there is a medical body in support of a certain method, judge inclined to rule for the professional</text>
<text x="1173" y="586" class="n">HOWEVER: Judge can overrule if they believe the medical standard is obsolete</text>
<text x="1173" y="601" class="r">Bolam v Friern Hospital Management Committee [DF]</text>
<text x="1173" y="617" class="r">Bolitho v City &amp; Hackney Health Authority [DF]</text></g>
<g id="n-young"><rect x="1172" y="630" width="309" height="38" rx="4" class="note" fill="#ebe3eb"/>
<text x="1181" y="643" class="b">Young people= judged by standard of a reasonably competent person of their age</text><text x="1181" y="659" class="r">Mullin v Richards [DF]</text></g>
<g id="n-specialc"><rect x="1198" y="671" width="223" height="49" rx="4" class="note" fill="#fceafc"/>
<text x="1207" y="686" class="b">Special characteristics of claimant may increase SoC owed,</text><text x="1207" y="696" class="b">causing a breach when previously wouldn't have been</text><text x="1207" y="711" class="r">Paris v Stepney Borough Council</text></g>
<g id="n-sizerisk"><rect x="1154" y="723" width="251" height="38" rx="4" class="note" fill="#fceafc"/>
<text x="1163" y="737" class="b">The probability of the risk occurring should be taken into account</text><text x="1163" y="752" class="r">Bolton v Stone [DF]</text></g>
<g id="n-practical"><rect x="1192" y="765" width="286" height="54" rx="4" class="note" fill="#fceafc"/>
<text x="1201" y="779" class="b">Judge may consider precautions the defendant took to prevent the incident</text><text x="1201" y="794" class="r">Latimer v AEC [DF]</text><text x="1201" y="809" class="rs">See Also: Bolton v Stone [DF]</text></g>
<g id="n-benefits"><rect x="1198" y="820" width="307" height="52" rx="4" class="note" fill="#fceafc"/>
<text x="1206" y="835" class="b">Public utility - there is a lower standard of care when responding to an emergency</text>
<text x="1206" y="849" class="n">The court balances the risk against the measures taken and the benefit of public good</text>
<text x="1206" y="864" class="r">Watt v Hertfordshire County Council [DF]</text></g>

<g id="connectors">
<g fill="none" stroke-width="2.4">
<line x1="812" y1="474" x2="768" y2="216" stroke="#444"/>
<line x1="826" y1="474" x2="900" y2="318" stroke="#1a8a1a"/>
<line x1="826" y1="508" x2="900" y2="670" stroke="#800080"/>
<line x1="818" y1="508" x2="764" y2="782" stroke="#f5a000"/>
<line x1="788" y1="508" x2="732" y2="540" stroke="#1a1a80"/>
</g>
<g class="c k">
<path d="M642 206L633 116M642 206L632 305M585 116L575 54M585 116L575 131M585 116L575 193M577 305L566 242M577 305L566 297M577 305L566 360"/>
<path d="M495 54L482 37M495 54L482 67M428 67L426 52M428 67L426 67M428 67L426 82"/>
<path d="M492 131L480 107M492 131L480 144M425 144L423 122M425 144L423 137M425 144L423 151M425 144L423 166"/>
<path d="M503 193L492 191M503 193L492 206M505 242L492 232M505 242L492 247M505 242L492 262M513 297L503 288M513 297L503 302M513 297L503 317M506 360L495 343M506 360L495 357M506 360L495 372M506 360L495 387"/>
<path d="M262 37H482M322 52H426M275 67H426M325 82H426M430 67H482M152 107H480M425 144H480M342 122H423M374 137H423M323 151H423M322 166H423M410 191H492M375 206H492M440 232H492M385 247H492M420 262H492M450 288H503M401 302H503M413 317H503M452 343H495M366 357H495M420 372H495M408 387H495"/>
</g>
<g class="c nv">
<path d="M636 537L628 460M636 537L628 586M508 460L500 432M508 460L500 480M490 586L479 523M490 586L479 556M490 586L479 618"/>
<path d="M424 432L410 429M424 432L410 444M405 480L396 471M405 480L396 486M405 480L396 501M403 523L392 528M396 556L384 554M396 556L384 569M397 618L386 595M397 618L386 609M397 618L386 638M345 638L341 624M345 638L341 638M345 638L341 653"/>
<path d="M105 429H410M326 444H410M50 471H396M253 486H396M270 501H396M135 528H392M263 554H384M145 569H384M272 595H386M213 609H386M345 638H386M155 624H341M73 638H341M26 653H341"/>
</g>
<g class="c o">
<path d="M690 776L683 699M690 776L685 797M643 699L632 699M652 797L640 750M652 797L640 802M652 797L640 848"/>
<path d="M567 699L555 696M567 699L555 711M567 750L556 759M567 750L556 774M524 802L498 800M524 802L498 815M565 848L556 852M565 848L556 867"/>
<path d="M196 696H555M352 711H555M250 759H556M452 774H556M318 800H498M390 815H498M205 852H556M362 867H556"/>
</g>
<g class="c gr">
<path d="M984 312L994 206M984 312L994 339M1083 206L1093 199M1083 206L1093 224M1048 339L1061 247M1048 339L1061 276M1048 339L1061 332M1048 339L1061 404"/>
<path d="M1127 276L1139 266M1127 276L1139 281M1127 276L1139 297M1110 332L1122 322M1110 332L1122 338M1110 332L1122 353M1139 404L1178 380M1139 404L1178 394M1139 404L1178 409M1139 404L1178 424M1139 404L1178 439"/>
<path d="M1093 199H1213M1093 224H1346M1061 247H1160M1139 266H1303M1139 281H1225M1139 297H1218M1122 322H1282M1122 338H1213M1122 353H1228M1178 380H1447M1178 394H1330M1178 409H1343M1178 424H1253M1178 439H1341"/>
</g>
<g class="c p">
<path d="M997 668L1005 567M997 668L1006 772M1089 567L1097 483M1089 567L1097 525M1089 567L1097 587M1089 567L1097 648M1083 772L1089 695M1083 772L1089 743M1083 772L1089 791M1083 772L1089 846"/>
<path d="M1172 483L1185 481M1172 483L1185 496M1181 525L1193 523M1181 525L1193 538M1162 587L1169 574M1162 587L1169 589M1162 587L1169 604M1162 587L1169 620M1166 648L1177 646M1166 648L1177 662M1191 695L1203 699M1191 695L1203 714M1146 743L1159 740M1146 743L1159 755M1185 791L1197 782M1185 791L1197 797M1185 791L1197 812M1191 846L1203 838M1191 846L1203 852M1191 846L1203 867"/>
<path d="M1185 481H1500M1185 496H1275M1193 523H1457M1193 538H1299M1169 574H1540M1169 589H1446M1169 604H1393M1169 620H1371M1177 646H1474M1177 662H1272M1203 699H1414M1203 714H1345M1159 740H1398M1159 755H1247M1197 782H1470M1197 797H1280M1197 812H1304M1203 838H1497M1203 852H1494M1203 867H1379"/>
</g>
</g>

<g id="markers">
<circle class="m" cx="642" cy="206" r="2.3"/><circle class="m" cx="585" cy="116" r="2.3"/><circle class="m" cx="577" cy="305" r="2.3"/><circle class="m" cx="495" cy="54" r="2.3"/><circle class="m" cx="492" cy="131" r="2.3"/><circle class="m" cx="503" cy="193" r="2.3"/><circle class="m" cx="505" cy="242" r="2.3"/><circle class="m" cx="513" cy="297" r="2.3"/><circle class="m" cx="506" cy="360" r="2.3"/><circle class="m" cx="433" cy="62" r="2"/><circle class="m" cx="430" cy="139" r="2"/>
<circle class="m" cx="636" cy="537" r="2.3"/><circle class="m" cx="508" cy="460" r="2.3"/><circle class="m" cx="490" cy="586" r="2.3"/><circle class="m" cx="424" cy="432" r="2.3"/><circle class="m" cx="405" cy="480" r="2.3"/><circle class="m" cx="403" cy="523" r="2.3"/><circle class="m" cx="396" cy="556" r="2.3"/><circle class="m" cx="397" cy="618" r="2.3"/><circle class="m" cx="343" cy="633" r="2"/>
<circle class="m" cx="690" cy="776" r="2.3"/><circle class="m" cx="643" cy="699" r="2.3"/><circle class="m" cx="652" cy="797" r="2.3"/><circle class="m" cx="567" cy="699" r="2.3"/><circle class="m" cx="567" cy="750" r="2.3"/><circle class="m" cx="524" cy="802" r="2.3"/><circle class="m" cx="565" cy="848" r="2.3"/>
<circle class="m" cx="984" cy="312" r="2.3"/><circle class="m" cx="1083" cy="206" r="2.3"/><circle class="m" cx="1048" cy="339" r="2.3"/><circle class="m" cx="1127" cy="276" r="2.3"/><circle class="m" cx="1110" cy="332" r="2.3"/><circle class="m" cx="1139" cy="404" r="2.3"/>
<circle class="m" cx="997" cy="668" r="2.3"/><circle class="m" cx="1089" cy="567" r="2.3"/><circle class="m" cx="1083" cy="772" r="2.3"/><circle class="m" cx="1172" cy="483" r="2.3"/><circle class="m" cx="1181" cy="525" r="2.3"/><circle class="m" cx="1162" cy="587" r="2.3"/><circle class="m" cx="1166" cy="648" r="2.3"/><circle class="m" cx="1191" cy="695" r="2.3"/><circle class="m" cx="1146" cy="743" r="2.3"/><circle class="m" cx="1185" cy="791" r="2.3"/><circle class="m" cx="1191" cy="846" r="2.3"/>
</g>
</g>
</svg>
